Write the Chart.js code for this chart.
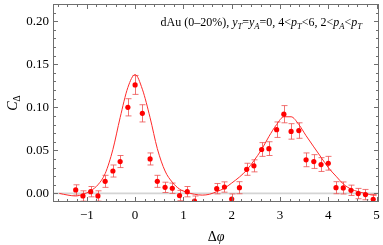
<!DOCTYPE html>
<html><head><meta charset="utf-8">
<script src="https://cdn.jsdelivr.net/npm/chart.js@4/dist/chart.umd.min.js"></script>
<style>html,body{margin:0;padding:0;background:#fff}#wrap{width:383px;height:245px}</style>
</head><body><div id="wrap"><canvas id="c"></canvas></div>
<script>
// data points (Δφ bin centres), values and errors
const pointX = [-1.23,-1.08,-0.92,-0.77,-0.62,-0.46,-0.31,-0.15,0.00,0.15,0.31,0.46,0.62,0.77,0.92,1.08,1.23,
  1.69,1.85,2.00,2.16,2.31,2.46,2.62,2.77,2.93,3.08,3.23,3.39,3.54,3.70,3.85,4.00,4.16,4.31,4.47,4.62,4.77,4.93];
const pointY = [0.004,-0.003,0.002,-0.003,0.014,0.026,0.037,0.100,0.126,0.093,0.040,0.014,0.007,0.006,-0.0025,0.002,-0.009,
  0.0055,0.0074,-0.0066,0.0066,0.028,0.032,0.051,0.052,0.074,0.092,0.072,0.073,0.039,0.037,0.0335,0.035,0.0066,0.0063,0.0036,-0.0002,-0.0014,-0.007];
const pointErr = [0.006,0.006,0.006,0.006,0.007,0.007,0.007,0.010,0.011,0.010,0.007,0.007,0.006,0.006,0.006,0.006,0.006,
  0.006,0.006,0.006,0.007,0.007,0.007,0.008,0.008,0.009,0.010,0.009,0.009,0.008,0.008,0.008,0.008,0.007,0.007,0.006,0.006,0.006,0.006];
// fitted curve
const curveX = [-1.57,-1.39,-1.23,-1.08,-0.92,-0.77,-0.62,-0.46,-0.31,-0.15,0,0.15,0.31,0.46,0.62,0.77,0.92,1.08,1.23,1.39,1.54,
  1.69,1.85,2.00,2.16,2.31,2.46,2.62,2.77,2.93,3.08,3.23,3.39,3.54,3.70,3.85,4.00,4.16,4.31,4.47,4.62,4.77,4.93,5.00];
const curveY = [0.000,-0.002,-0.003,-0.001,0.003,0.010,0.023,0.051,0.088,0.123,0.138,0.121,0.088,0.052,0.026,0.013,0.005,0.001,-0.001,-0.002,-0.001,
  0.002,0.006,0.012,0.019,0.027,0.038,0.051,0.066,0.080,0.089,0.089,0.080,0.067,0.054,0.042,0.030,0.020,0.011,0.005,0.002,0.000,-0.002,-0.002];
const xTicks = [-1,0,1,2,3,4,5];
const yTicks = [0.00,0.05,0.10,0.15,0.20];
const annotation = [["dAu (0\u201320%), ",0,0],["y",1,0],["T",1,1],["=",0,0],["y",1,0],["A",1,1],["=0, 4<",0,0],["p",1,0],["T",1,1],
  ["<6, 2<",0,0],["p",1,0],["A",1,1],["<",0,0],["p",1,0],["T",1,1]];

const SERIF = '"Liberation Serif","DejaVu Serif",serif';

const plug = {
  id:'deco',
  beforeDatasetsDraw(chart){
    const {ctx, chartArea:a, scales:{x,y}} = chart;
    ctx.save();
    ctx.beginPath(); ctx.rect(a.left,a.top,a.right-a.left,a.bottom-a.top); ctx.clip();
    const y0 = y.getPixelForValue(0);
    ctx.strokeStyle='#d4d4d4'; ctx.lineWidth=1.8;
    ctx.beginPath(); ctx.moveTo(a.left,y0); ctx.lineTo(a.right,y0); ctx.stroke();
    ctx.strokeStyle='rgba(238,80,80,0.8)'; ctx.lineWidth=1;
    for(let i=0;i<pointX.length;i++){
      const px=Math.round(x.getPixelForValue(pointX[i]))+0.5;
      const lo=y.getPixelForValue(pointY[i]-pointErr[i]);
      const hi=y.getPixelForValue(pointY[i]+pointErr[i]);
      ctx.beginPath();
      ctx.moveTo(px,lo); ctx.lineTo(px,hi);
      ctx.moveTo(px-3,lo); ctx.lineTo(px+3,lo);
      ctx.moveTo(px-3,hi); ctx.lineTo(px+3,hi);
      ctx.stroke();
    }
    ctx.restore();
  },
  afterDraw(chart){
    const {ctx, chartArea:a, scales:{x,y}} = chart;
    ctx.save();
    ctx.strokeStyle='#6e6e6e'; ctx.lineWidth=1;
    ctx.strokeRect(a.left+0.5,a.top+0.5,a.right-a.left-1,a.bottom-a.top-1);
    ctx.beginPath();
    for(let k=-17;k<=50;k++){
      const v=k/10; if(k%2!==0) continue;
      if(v<x.min||v>x.max) continue;
      const major = (k%10===0);
      const L = major?5:3;
      const px=Math.round(x.getPixelForValue(v))+0.5;
      ctx.moveTo(px,a.bottom); ctx.lineTo(px,a.bottom-L);
      ctx.moveTo(px,a.top); ctx.lineTo(px,a.top+L);
    }
    for(let k=-1;k<=22;k++){
      const v=k/100;
      const major=(k%5===0);
      const L=major?5:3;
      const py=Math.round(y.getPixelForValue(v))+0.5;
      if(py<a.top||py>a.bottom) continue;
      ctx.moveTo(a.left,py); ctx.lineTo(a.left+L,py);
      ctx.moveTo(a.right,py); ctx.lineTo(a.right-L,py);
    }
    ctx.stroke();
    // annotation (right aligned)
    const fs=12, sfs=8.5;
    let total=0;
    const fontOf=s=>(s[1]?'italic ':'')+(s[2]?sfs:fs)+'px '+SERIF;
    for(const s of annotation){ctx.font=fontOf(s); total+=ctx.measureText(s[0]).width;}
    let cx=362-total; const base=a.top+22;
    ctx.fillStyle='#000'; ctx.textBaseline='alphabetic'; ctx.textAlign='left';
    for(const s of annotation){ctx.font=fontOf(s); ctx.fillText(s[0],cx,base+(s[2]?2.5:0)); cx+=ctx.measureText(s[0]).width;}
    // x title Δφ
    ctx.font='14px '+SERIF; const w1=ctx.measureText('\u0394').width;
    ctx.font='italic 14px '+SERIF; const w2=ctx.measureText('\u03c6').width;
    let tx=(a.left+a.right)/2-(w1+w2)/2;
    ctx.font='14px '+SERIF; ctx.fillText('\u0394',tx,241);
    ctx.font='italic 14px '+SERIF; ctx.fillText('\u03c6',tx+w1,241);
    // y title C_Δ
    ctx.translate(17,(a.top+a.bottom)/2); ctx.rotate(-Math.PI/2);
    ctx.font='italic 14px '+SERIF; const c1=ctx.measureText('C').width;
    ctx.font='9.5px '+SERIF; const c2=ctx.measureText('\u0394').width;
    let ty=-(c1+c2)/2;
    ctx.font='italic 14px '+SERIF; ctx.fillText('C',ty,0);
    ctx.font='9.5px '+SERIF; ctx.fillText('\u0394',ty+c1,3);
    ctx.restore();
  }
};

new Chart(document.getElementById('c'),{
  type:'scatter',
  data:{datasets:[
    {label:'data',data:pointX.map((v,i)=>({x:v,y:pointY[i]})),pointStyle:'circle',pointRadius:2.6,
     backgroundColor:'#ff0000',borderColor:'#ff0000',borderWidth:0,order:0},
    {label:'fit',data:curveX.map((v,i)=>({x:v,y:curveY[i]})),showLine:true,pointRadius:0,
     borderColor:'#ff2a2a',borderWidth:1,tension:0.3,cubicInterpolationMode:'monotone',order:1}
  ]},
  options:{
    responsive:true,maintainAspectRatio:false,animation:false,devicePixelRatio:1,
    layout:{padding:{top:0,right:3,left:0,bottom:0}},
    plugins:{legend:{display:false},tooltip:{enabled:false}},
    scales:{
      x:{type:'linear',min:-1.7,max:5.05,
        grid:{display:false,drawTicks:false},border:{display:false},
        afterFit(s){s.height=43;s.paddingLeft=0;s.paddingRight=0;},
        afterBuildTicks(s){s.ticks=xTicks.map(v=>({value:v}));},
        ticks:{padding:6,color:'#000',font:{family:SERIF,size:13},
          callback:v=>(v<0?'\u2212'+Math.abs(v):String(v)),maxRotation:0,autoSkip:false}},
      y:{type:'linear',min:-0.01,max:0.22,
        grid:{display:false,drawTicks:false},border:{display:false},
        afterFit(s){s.width=53;s.paddingTop=0;s.paddingBottom=0;},
        afterBuildTicks(s){s.ticks=yTicks.map(v=>({value:v}));},
        ticks:{padding:4,color:'#000',font:{family:SERIF,size:13},callback:v=>Number(v).toFixed(2),autoSkip:false}}
    }
  },
  plugins:[plug]
});
</script></body></html>
